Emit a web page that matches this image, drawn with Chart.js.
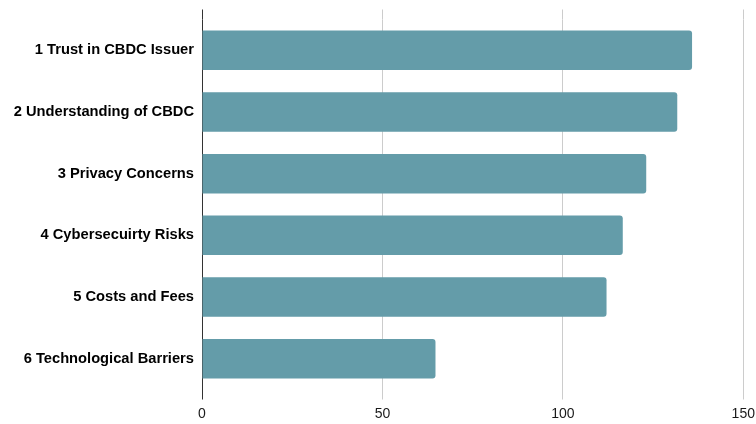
<!DOCTYPE html>
<html>
<head>
<meta charset="utf-8">
<script src="https://cdn.jsdelivr.net/npm/chart.js@4/dist/chart.umd.min.js"></script>
<style>
    html, body { margin: 0; padding: 0; background: #fff; }
    #wrap { width: 756px; height: 424px; }
</style>
</head>
<body>
<div id="wrap"><canvas id="barriers"></canvas></div>
<script>
// Barriers to CBDC adoption, ranked
const categories = [
    '1 Trust in CBDC Issuer',
    '2 Understanding of CBDC',
    '3 Privacy Concerns',
    '4 Cybersecuirty Risks',
    '5 Costs and Fees',
    '6 Technological Barriers'
];
const scores = [135.8, 131.7, 123.1, 116.6, 112.1, 64.7];
const xTicks = [0, 50, 100, 150];

function gridColor(value) {
    return value === 0 ? '#333333' : '#cccccc';
}

// vertical grid lines run a little above the plot area
const gridCap = {
    id: 'gridCap',
    beforeDatasetsDraw(chart) {
        const ctx = chart.ctx;
        const xScale = chart.scales.x;
        const top = chart.chartArea.top;
        ctx.save();
        ctx.lineWidth = 1;
        xScale.ticks.forEach(t => {
            // same pixel snapping chart.js uses for its own grid
            const px = Math.round(xScale.getPixelForValue(t.value) - 0.5) + 0.5;
            ctx.strokeStyle = gridColor(t.value);
            ctx.beginPath();
            ctx.moveTo(px, top - 10);
            ctx.lineTo(px, top);
            ctx.stroke();
        });
        ctx.restore();
    }
};

new Chart(document.getElementById('barriers'), {
    type: 'bar',
    data: {
        labels: categories,
        datasets: [{
            data: scores,
            backgroundColor: '#649ca9',
            borderRadius: 3,
            borderSkipped: 'start',
            categoryPercentage: 0.8,
            barPercentage: 0.8
        }]
    },
    options: {
        indexAxis: 'y',
        responsive: true,
        maintainAspectRatio: false,
        animation: false,
        layout: {
            padding: { top: 19.5, right: 12.7, bottom: 0, left: 0 }
        },
        plugins: {
            legend: { display: false },
            tooltip: { enabled: false }
        },
        scales: {
            x: {
                min: 0,
                max: 150,
                afterBuildTicks(scale) {
                    scale.ticks = xTicks.map(v => ({ value: v }));
                },
                afterFit(scale) {
                    scale.paddingLeft = 0;
                    scale.paddingRight = 0;
                    scale.height = 34.5;
                },
                grid: {
                    color: c => gridColor(c.tick ? c.tick.value : null),
                    tickLength: 10,
                    lineWidth: 1
                },
                border: { display: false },
                ticks: {
                    color: '#1a1a1a',
                    padding: 6,
                    maxRotation: 0,
                    font: { family: 'Liberation Sans, Arial, sans-serif', size: 14 }
                }
            },
            y: {
                afterFit(scale) {
                    scale.width = 202;
                },
                grid: { display: false, drawTicks: false },
                border: { display: false },
                ticks: {
                    color: '#000',
                    padding: 8,
                    font: { family: 'Liberation Sans, Arial, sans-serif', size: 14.7, weight: 'bold' }
                }
            }
        }
    },
    plugins: [gridCap]
});
</script>
</body>
</html>
